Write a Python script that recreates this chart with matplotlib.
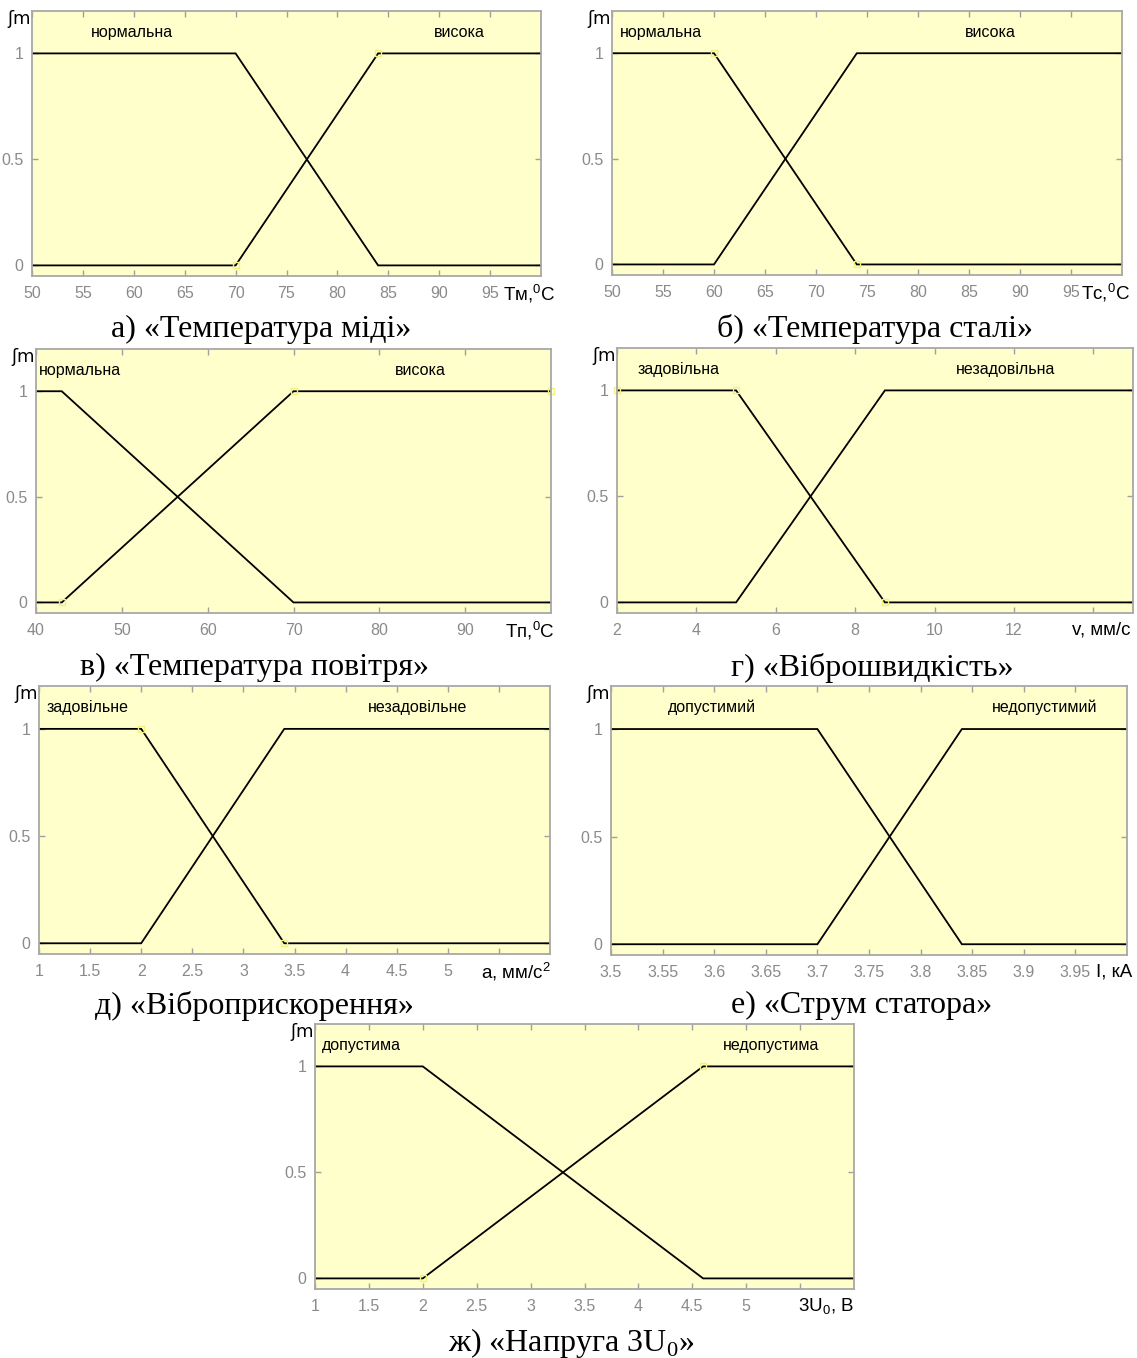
import matplotlib
matplotlib.use("Agg")
import matplotlib.pyplot as plt
from matplotlib import font_manager

# membership functions: shared breakpoints, two terms per variable
cu_x = [50, 70, 84, 100]
cu_normal = [1, 1, 0, 0]
cu_high = [0, 0, 1, 1]
cu_ticks = [50, 55, 60, 65, 70, 75, 80, 85, 90, 95]

st_x = [50, 60, 74, 100]
st_normal = [1, 1, 0, 0]
st_high = [0, 0, 1, 1]
st_ticks = [50, 55, 60, 65, 70, 75, 80, 85, 90, 95]

air_x = [40, 43, 70, 100]
air_normal = [1, 1, 0, 0]
air_high = [0, 0, 1, 1]
air_ticks = [40, 50, 60, 70, 80, 90]

vel_x = [2, 5, 8.75, 15]
vel_ok = [1, 1, 0, 0]
vel_bad = [0, 0, 1, 1]
vel_ticks = [2, 4, 6, 8, 10, 12, 14]
vel_ticklabels = ["2", "4", "6", "8", "10", "12", ""]

acc_x = [1, 2, 3.4, 6]
acc_ok = [1, 1, 0, 0]
acc_bad = [0, 0, 1, 1]
acc_ticks = [1, 1.5, 2, 2.5, 3, 3.5, 4, 4.5, 5, 5.5]
acc_ticklabels = ["1", "1.5", "2", "2.5", "3", "3.5", "4", "4.5", "5", ""]

cur_x = [3.5, 3.7, 3.84, 4.0]
cur_ok = [1, 1, 0, 0]
cur_bad = [0, 0, 1, 1]
cur_ticks = [3.5, 3.55, 3.6, 3.65, 3.7, 3.75, 3.8, 3.85, 3.9, 3.95]
cur_ticklabels = ["3.5", "3.55", "3.6", "3.65", "3.7", "3.75", "3.8", "3.85", "3.9", "3.95"]

u0_x = [1, 2, 4.6, 6]
u0_ok = [1, 1, 0, 0]
u0_bad = [0, 0, 1, 1]
u0_ticks = [1, 1.5, 2, 2.5, 3, 3.5, 4, 4.5, 5, 5.5]
u0_ticklabels = ["1", "1.5", "2", "2.5", "3", "3.5", "4", "4.5", "5", ""]

W, H = 1137, 1358
installed = {f.name for f in font_manager.fontManager.ttflist}
SANS = ["Liberation Sans Narrow"] if "Liberation Sans Narrow" in installed else ["Liberation Sans"]
SANS = SANS + ["DejaVu Sans"]
plt.rcParams["font.family"] = SANS
plt.rcParams["mathtext.fontset"] = "custom"
plt.rcParams["mathtext.rm"] = SANS[0]

fig = plt.figure(figsize=(W / 100, H / 100), dpi=100)


def px_axes(l, t, r, b):
    return fig.add_axes([l / W, 1 - b / H, (r - l) / W, (b - t) / H])


panels = [
    dict(box=(32, 11, 541, 276), x=cu_x, m1=cu_normal, m2=cu_high, lim=(50, 100),
         ticks=cu_ticks, tl=[str(t) for t in cu_ticks],
         names=("нормальна", "висока"), name_x=(59.8, 92.0),
         xlabel=r"Тм,$^{\mathregular{0}}$C", xl_dx=14, sel=[(70, 0), (84, 1)],
         caption="а) «Температура міді»", cap=(261, 337)),
    dict(box=(612, 11, 1122, 275), x=st_x, m1=st_normal, m2=st_high, lim=(50, 100),
         ticks=st_ticks, tl=[str(t) for t in st_ticks],
         names=("нормальна", "висока"), name_x=(54.8, 87.1),
         xlabel=r"Тс,$^{\mathregular{0}}$C", xl_dx=8, sel=[(60, 1), (74, 0)],
         caption="б) «Температура сталі»", cap=(875, 337)),
    dict(box=(36, 349, 551, 613), x=air_x, m1=air_normal, m2=air_high, lim=(40, 100),
         ticks=air_ticks, tl=[str(t) for t in air_ticks],
         names=("нормальна", "висока"), name_x=(45.1, 84.8),
         xlabel=r"Тп,$^{\mathregular{0}}$C", xl_dx=4, sel=[(43, 0), (70, 1), (100, 1)],
         caption="в) «Температура повітря»", cap=(254, 675)),
    dict(box=(617, 348, 1133, 613), x=vel_x, m1=vel_ok, m2=vel_bad, lim=(2, 15),
         ticks=vel_ticks, tl=vel_ticklabels,
         names=("задовільна", "незадовільна"), name_x=(3.56, 11.8),
         xlabel="v, мм/с", xl_dx=-2, sel=[(2, 1), (5, 1), (8.75, 0)],
         caption="г) «Віброшвидкість»", cap=(872, 676)),
    dict(box=(39, 686, 550, 954), x=acc_x, m1=acc_ok, m2=acc_bad, lim=(1, 6),
         ticks=acc_ticks, tl=acc_ticklabels,
         names=("задовільне", "незадовільне"), name_x=(1.48, 4.7),
         xlabel=r"а, мм/с$^{\mathregular{2}}$", xl_dx=1, sel=[(2, 1), (3.4, 0)],
         caption="д) «Віброприскорення»", cap=(254, 1014)),
    dict(box=(611, 686, 1127, 955), x=cur_x, m1=cur_ok, m2=cur_bad, lim=(3.5, 4.0),
         ticks=cur_ticks, tl=cur_ticklabels,
         names=("допустимий", "недопустимий"), name_x=(3.598, 3.92),
         xlabel="I, кА", xl_dx=5, sel=[],
         caption="е) «Струм статора»", cap=(862, 1013)),
    dict(box=(315, 1024, 854, 1289), x=u0_x, m1=u0_ok, m2=u0_bad, lim=(1, 6),
         ticks=u0_ticks, tl=u0_ticklabels,
         names=("допустима", "недопустима"), name_x=(1.43, 5.23),
         xlabel=r"3U$_{\mathregular{0}}$, В", xl_dx=0, sel=[(2, 0), (4.6, 1)],
         caption=r"ж) «Напруга 3U$_{\mathregular{0}}$»", cap=(571, 1351)),
]

grey = "#8a8a8a"
for p in panels:
    ax = px_axes(*p["box"])
    ax.set_facecolor("#ffffcc")
    ax.plot(p["x"], p["m1"], color="black", lw=1.3, solid_joinstyle="miter")
    ax.plot(p["x"], p["m2"], color="black", lw=1.3, solid_joinstyle="miter")
    for sx, sy in p["sel"]:
        ax.plot(sx, sy, marker="s", ms=5, mfc="none", mec="#f4f080", mew=1,
                clip_on=False)
    ax.set_xlim(*p["lim"])
    ax.set_ylim(-0.05, 1.2)
    ax.set_xticks(p["ticks"])
    ax.set_xticklabels(p["tl"])
    ax.set_yticks([0, 0.5, 1])
    ax.set_yticklabels(["0", "0.5", "1"])
    ax.tick_params(direction="in", length=4, width=1, color="#a0a0a0",
                   labelcolor=grey, labelsize=11.5, top=True, right=True)
    ax.tick_params(axis="x", pad=7)
    ax.tick_params(axis="y", pad=6)
    for s in ax.spines.values():
        s.set_color("#a8a8a8")
        s.set_linewidth(1.3)
    for name, nx in zip(p["names"], p["name_x"]):
        ax.text(nx, 1.1, name, ha="center", va="center", fontsize=11.5,
                color="black")
    ax.annotate(p["xlabel"], xy=(1, 0), xycoords="axes fraction",
                xytext=(p["xl_dx"] * 0.72, -12.5), textcoords="offset points",
                ha="right", va="center", fontsize=13.5, color="black")
    ax.annotate("ʃm", xy=(0, 1), xycoords="axes fraction", xytext=(-1, 1),
                textcoords="offset points", ha="right", va="top",
                fontsize=13, family=["DejaVu Sans"], color="black")
    cx, cy = p["cap"]
    fig.text(cx / W, 1 - cy / H, p["caption"], ha="center", va="baseline",
             fontsize=23, family=["Liberation Serif", "DejaVu Serif"])

fig.savefig("out.png", dpi=100, facecolor="white")
